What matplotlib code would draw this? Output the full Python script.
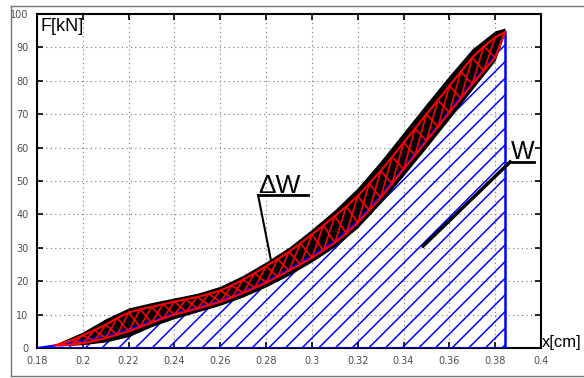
import matplotlib.pyplot as plt
from matplotlib.lines import Line2D
import numpy as np

# mean loop (red), sampled every 0.005 cm
loopX = [0.188, 0.195, 0.200, 0.205, 0.210, 0.215, 0.220, 0.225, 0.230, 0.235,
         0.240, 0.245, 0.250, 0.255, 0.260, 0.265, 0.270, 0.275, 0.280, 0.285,
         0.290, 0.295, 0.300, 0.305, 0.310, 0.315, 0.320, 0.325, 0.330, 0.335,
         0.340, 0.345, 0.350, 0.355, 0.360, 0.365, 0.370, 0.375, 0.380, 0.3843]
loopUpper = [0.8, 2.3, 3.8, 5.3, 7.0, 9.0, 10.6, 11.6, 12.3, 13.1,
             13.9, 14.6, 15.3, 16.2, 17.2, 18.7, 20.5, 22.4, 24.5, 26.6,
             28.8, 31.3, 34.0, 36.7, 39.5, 42.4, 45.5, 49.2, 53.0, 57.2,
             61.5, 65.7, 70.0, 74.2, 78.5, 82.7, 87.0, 90.3, 93.0, 94.6]
loopLower = [0.8, 1.0, 1.4, 2.1, 3.0, 4.0, 5.0, 6.3, 7.6, 8.8,
             10.0, 10.9, 11.8, 12.8, 13.8, 15.1, 16.5, 18.0, 19.5, 21.3,
             23.2, 25.0, 27.0, 29.2, 31.5, 34.3, 37.5, 41.2, 45.0, 49.2,
             53.5, 57.7, 62.0, 66.2, 70.5, 74.7, 79.0, 83.0, 87.0, 94.6]

# spread of all measured cycles (black)
cycleX = [0.188, 0.19, 0.20, 0.21, 0.22, 0.23, 0.24, 0.25, 0.26, 0.27, 0.28,
          0.29, 0.30, 0.31, 0.32, 0.33, 0.34, 0.35, 0.36, 0.37, 0.38, 0.3843]
cycleUpper = [0.8, 1.8, 4.8, 8.8, 12.0, 13.6, 15.0, 16.4, 18.5, 21.8, 25.8,
              30.2, 35.6, 41.4, 48.0, 56.0, 64.6, 73.2, 81.6, 89.6, 95.0, 95.8]
cycleLower = [0.8, 0.6, 1.0, 1.8, 3.4, 6.4, 8.8, 10.8, 12.8, 15.3, 18.3,
              21.8, 25.8, 30.3, 36.0, 43.4, 51.6, 60.0, 68.6, 77.4, 86.0, 94.6]

# loading branch bounding the work area W (blue)
workX = [0.18, 0.19, 0.20, 0.21, 0.22, 0.23, 0.24, 0.25, 0.26, 0.27, 0.28,
         0.29, 0.30, 0.31, 0.32, 0.33, 0.34, 0.35, 0.36, 0.37, 0.38, 0.3843]
workF = [0.0, 1.0, 2.2, 3.8, 5.6, 8.0, 10.4, 12.2, 14.2, 16.9, 20.0,
         23.7, 27.6, 32.1, 38.1, 45.6, 54.0, 62.5, 71.0, 79.5, 87.5, 94.6]

xTicks = [0.18, 0.2, 0.22, 0.24, 0.26, 0.28, 0.3, 0.32, 0.34, 0.36, 0.38, 0.4]
xTickLabels = ['0.18', '0.2', '0.22', '0.24', '0.26', '0.28', '0.3', '0.32',
               '0.34', '0.36', '0.38', '0.4']
yTicks = [0, 10, 20, 30, 40, 50, 60, 70, 80, 90, 100]


def plotWork(ax):
    plt.rcParams['hatch.linewidth'] = 1.1
    ax.fill_between(workX, 0, workF, facecolor='none', edgecolor='#0000ff',
                    hatch='//', linewidth=0, zorder=2)
    ax.plot(workX, workF, color='#0000ff', lw=1.5, zorder=3)
    ax.plot([workX[0], workX[-1]], [0, 0], color='#0000ff', lw=2, zorder=3)
    ax.plot([workX[-1], workX[-1]], [0, workF[-1]], color='#0000ff', lw=1.8, zorder=3)


def plotLoop(ax):
    ax.fill_between(cycleX, cycleLower, cycleUpper, color='black', lw=0, zorder=4)
    ax.plot(workX[1:], workF[1:], color='#0000ff', lw=1.2, zorder=5)
    ax.plot(loopX, loopUpper, color='red', lw=1.5, zorder=6)
    ax.plot(loopX, loopLower, color='red', lw=1.5, zorder=6)
    # criss-cross between the two branches
    for i in range(len(loopX) - 1):
        ax.plot([loopX[i], loopX[i + 1]], [loopUpper[i], loopLower[i + 1]],
                color='red', lw=1.2, zorder=6)
        ax.plot([loopX[i], loopX[i + 1]], [loopLower[i], loopUpper[i + 1]],
                color='red', lw=1.2, zorder=6)


def annotate(ax):
    ax.text(0.2765, 46.4, '\u0394W', fontsize=19, family='Liberation Sans',
            va='baseline', ha='left', zorder=8)
    ax.plot([0.2765, 0.2983], [45.8, 45.8], color='black', lw=2, zorder=8)
    ax.plot([0.2765, 0.2821], [45.8, 26.3], color='black', lw=1.5, zorder=8)

    ax.text(0.3869, 56.6, 'W', fontsize=18, family='Liberation Sans',
            va='baseline', ha='left', zorder=8)
    ax.plot([0.3865, 0.3969], [55.7, 55.7], color='black', lw=2, zorder=8)
    ax.plot([0.3865, 0.3485], [55.7, 30.5], color='black', lw=2.5, zorder=8)


def setupAxes(fig, ax):
    ax.set_xlim(0.18, 0.4)
    ax.set_ylim(0, 100)
    ax.set_xticks(xTicks)
    ax.set_xticklabels(xTickLabels)
    ax.set_yticks(yTicks)
    ax.tick_params(direction='in', length=4, width=1.2, top=True, right=True,
                   labelsize=7, labelcolor='0.3', pad=6)
    ax.grid(True, color='0.45', linestyle=(0, (1, 3)), lw=0.8)
    for spine in ax.spines.values():
        spine.set_linewidth(1.5)
    ax.set_axisbelow(True)

    fig.text(41 / 584, 1 - 31 / 378, 'F[kN]', fontsize=13, family='Liberation Sans',
             va='baseline', ha='left')
    fig.text(542 / 584, 1 - 347 / 378, 'x[cm]', fontsize=12, family='Liberation Sans',
             va='baseline', ha='left')

    # thin frame round the picture
    frameColor = '0.45'
    fig.add_artist(Line2D([11 / 584, 1], [1 - 6 / 378, 1 - 6 / 378], color=frameColor, lw=1))
    fig.add_artist(Line2D([11 / 584, 11 / 584], [1 - 6 / 378, 2 / 378], color=frameColor, lw=1))
    fig.add_artist(Line2D([11 / 584, 1], [2 / 378, 2 / 378], color=frameColor, lw=1))


def main():
    fig = plt.figure(figsize=(5.84, 3.78), dpi=100)
    ax = fig.add_axes([37 / 584, 1 - 348 / 378, 504 / 584, 334 / 378])
    plotWork(ax)
    plotLoop(ax)
    annotate(ax)
    setupAxes(fig, ax)
    fig.savefig('out.png', dpi=100)


main()
